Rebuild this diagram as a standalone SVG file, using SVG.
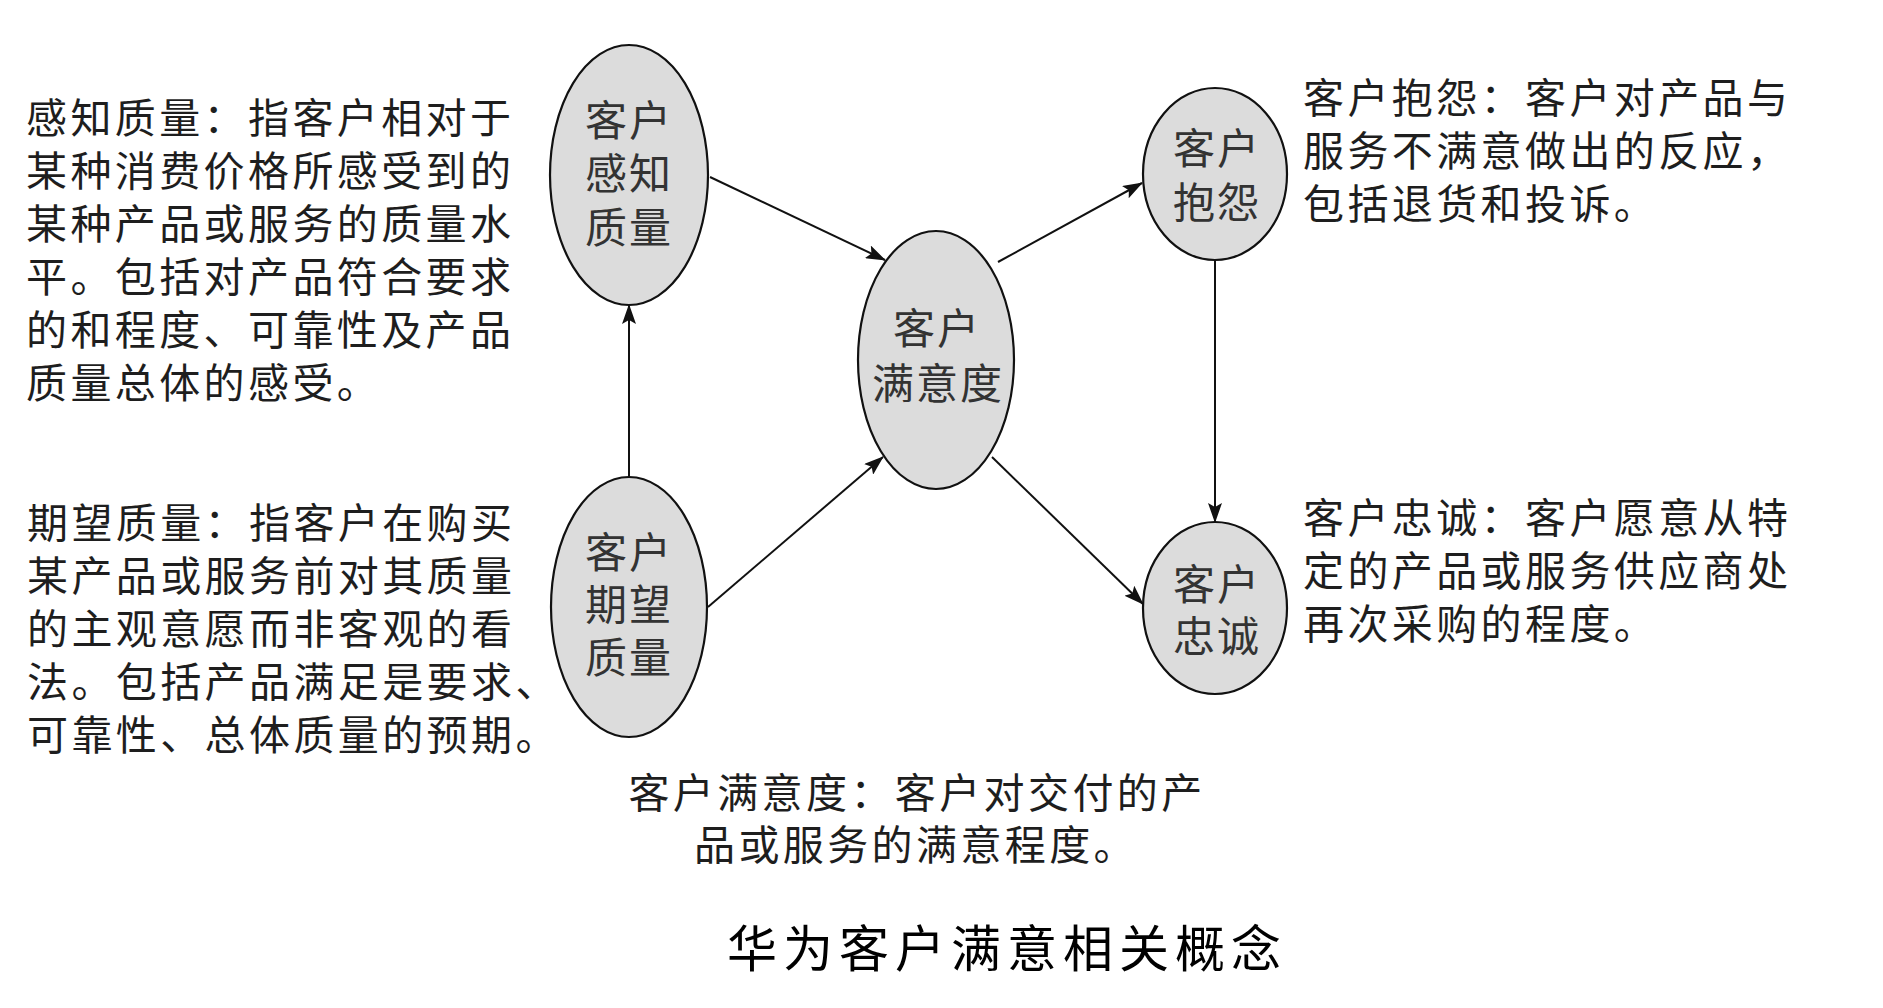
<svg xmlns="http://www.w3.org/2000/svg" width="1883" height="1008" viewBox="0 0 1883 1008">
<style>
.bg{fill:#ffffff}
.node{fill:#dcdcdc;stroke:#111;stroke-width:2.2}
.nt{font-family:"Noto Sans CJK SC","Liberation Sans",sans-serif;font-size:42px;letter-spacing:2px;fill:#333;text-anchor:middle}
.t{font-family:"Noto Sans CJK SC","Liberation Sans",sans-serif;font-size:41px;letter-spacing:3.4px;fill:#1e1e1e}
.tc{text-anchor:middle}
.title{font-family:"Noto Sans CJK SC","Liberation Sans",sans-serif;font-size:50px;letter-spacing:6px;fill:#000;text-anchor:middle}
.edge{stroke:#111;stroke-width:2;fill:none;marker-end:url(#arr)}
</style>
<defs>
<marker id="arr" markerUnits="userSpaceOnUse" markerWidth="20" markerHeight="14" refX="19" refY="7" orient="auto">
<path d="M0,0 L20,7 L0,14 L4,7 z" fill="#111"/>
</marker>
</defs>
<rect class="bg" x="0" y="0" width="1883" height="1008"/>

<g id="connectors">
<line class="edge" x1="710" y1="177" x2="885" y2="260"/>
<line class="edge" x1="629" y1="477" x2="629" y2="305"/>
<line class="edge" x1="708" y1="607" x2="883" y2="457"/>
<line class="edge" x1="998" y1="262" x2="1142" y2="183"/>
<line class="edge" x1="1215" y1="260" x2="1215" y2="522"/>
<line class="edge" x1="992" y1="457" x2="1143" y2="604"/>
</g>

<g id="node-perceived">
<ellipse class="node" cx="629" cy="175" rx="79" ry="130"/>
<text class="nt" x="629" y="136">客户</text>
<text class="nt" x="629" y="189">感知</text>
<text class="nt" x="629" y="243">质量</text>
</g>

<g id="node-expected">
<ellipse class="node" cx="629" cy="607" rx="78" ry="130"/>
<text class="nt" x="629" y="568">客户</text>
<text class="nt" x="629" y="620">期望</text>
<text class="nt" x="629" y="673">质量</text>
</g>

<g id="node-satisfaction">
<ellipse class="node" cx="936" cy="360" rx="78" ry="129"/>
<text class="nt" x="937" y="344">客户</text>
<text class="nt" x="938" y="399">满意度</text>
</g>

<g id="node-complaint">
<ellipse class="node" cx="1215" cy="174" rx="72" ry="86"/>
<text class="nt" x="1217" y="164">客户</text>
<text class="nt" x="1217" y="218">抱怨</text>
</g>

<g id="node-loyalty">
<ellipse class="node" cx="1215" cy="608" rx="72" ry="86"/>
<text class="nt" x="1217" y="600">客户</text>
<text class="nt" x="1217" y="652">忠诚</text>
</g>

<g id="text-perceived">
<text class="t" x="26" y="133">感知质量：指客户相对于</text>
<text class="t" x="26" y="186">某种消费价格所感受到的</text>
<text class="t" x="26" y="239">某种产品或服务的质量水</text>
<text class="t" x="26" y="292">平。包括对产品符合要求</text>
<text class="t" x="26" y="345">的和程度、可靠性及产品</text>
<text class="t" x="26" y="398">质量总体的感受。</text>
</g>

<g id="text-expected">
<text class="t" x="27" y="538">期望质量：指客户在购买</text>
<text class="t" x="27" y="591">某产品或服务前对其质量</text>
<text class="t" x="27" y="644">的主观意愿而非客观的看</text>
<text class="t" x="27" y="697">法。包括产品满足是要求、</text>
<text class="t" x="27" y="750">可靠性、总体质量的预期。</text>
</g>

<g id="text-complaint">
<text class="t" x="1303" y="113">客户抱怨：客户对产品与</text>
<text class="t" x="1303" y="166">服务不满意做出的反应，</text>
<text class="t" x="1303" y="219">包括退货和投诉。</text>
</g>

<g id="text-loyalty">
<text class="t" x="1303" y="533">客户忠诚：客户愿意从特</text>
<text class="t" x="1303" y="586">定的产品或服务供应商处</text>
<text class="t" x="1303" y="639">再次采购的程度。</text>
</g>

<g id="text-satisfaction">
<text class="t tc" x="917" y="808">客户满意度：客户对交付的产</text>
<text class="t tc" x="916" y="860">品或服务的满意程度。</text>
</g>

<g id="title">
<text class="title" x="1007" y="967">华为客户满意相关概念</text>
</g>
</svg>
